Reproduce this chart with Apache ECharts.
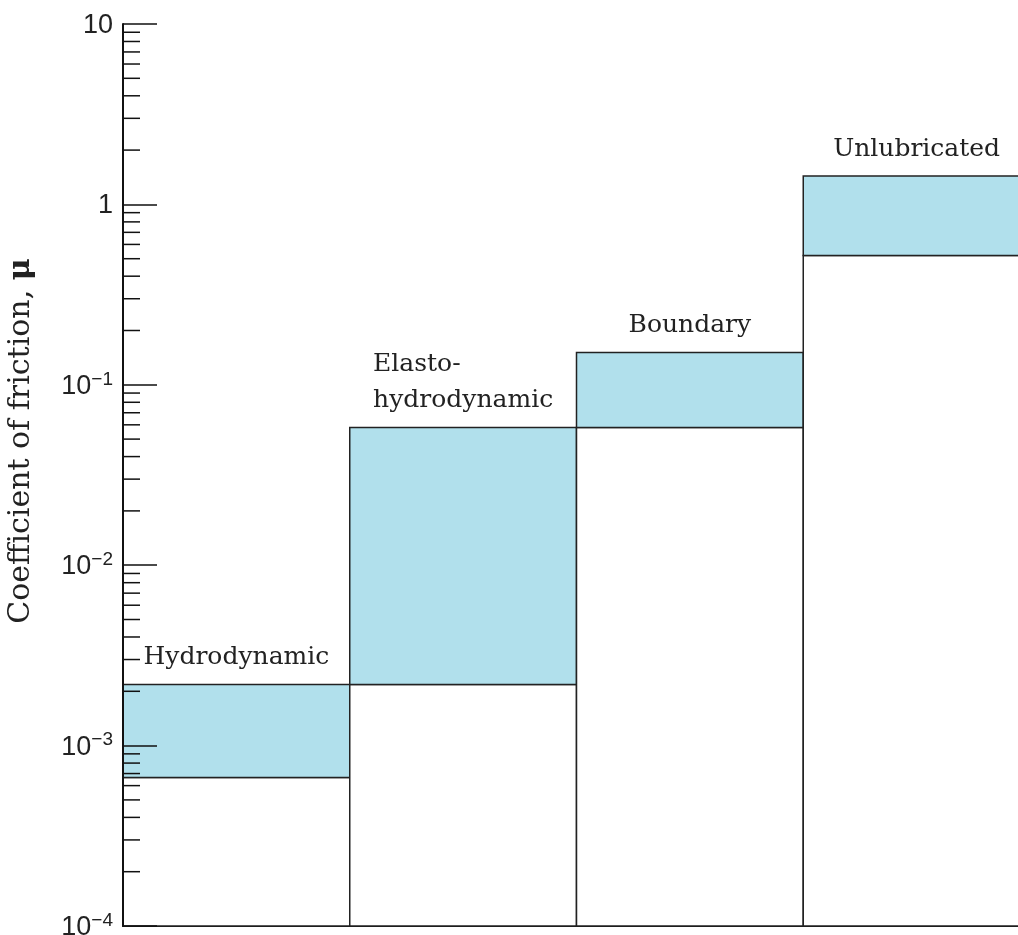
<!DOCTYPE html>
<html>
<head>
<meta charset="utf-8">
<script src="https://cdn.jsdelivr.net/npm/echarts@6/dist/echarts.min.js"></script>
<style>
html,body{margin:0;padding:0;background:#fff;}
#chart{width:1018px;height:935px;}
</style>
</head>
<body>
<div id="chart"></div>
<script>
// ---- data ----
const categories = ['Hydrodynamic', 'Elasto-\nhydrodynamic', 'Boundary', 'Unlubricated'];
const lowValues  = [0.000665, 0.00218, 0.058, 0.521];
const highValues = [0.00218, 0.058, 0.151, 1.436];
const yMin = 1e-4;
const yMax = 10;
const yTitle = 'Coefficient of friction, ';
const yTitleSymbol = 'μ';
// minor tick values (2..9 per decade)
const minorTicks = [];
for (let e = -4; e < 1; e++) {
  for (let m = 2; m <= 9; m++) minorTicks.push(m * Math.pow(10, e));
}

const LABEL_FONT = '25px "DejaVu Serif"';
const measureCtx = document.createElement('canvas').getContext('2d');
measureCtx.font = LABEL_FONT;

const chart = echarts.init(document.getElementById('chart'), null, {renderer: 'canvas'});

function tickLabel(v) {
  const e = Math.round(Math.log10(v));
  if (e === 1) return '{b|10}';
  if (e === 0) return '{b|1}';
  return '{b|10}{s|\u2212' + Math.abs(e) + '}';
}

const option = {
  animation: false,
  backgroundColor: '#ffffff',
  grid: {left: 123, right: -12, top: 24, bottom: 9, containLabel: false, outerBoundsMode: 'none'},
  xAxis: {
    type: 'value', min: 0, max: 4,
    axisLine: {show: true, onZero: false, lineStyle: {color: '#111', width: 2}},
    axisTick: {show: false}, axisLabel: {show: false}, splitLine: {show: false}
  },
  yAxis: {
    type: 'log', logBase: 10, min: yMin, max: yMax, splitNumber: 5,
    z: 10,
    axisLine: {show: true, lineStyle: {color: '#111', width: 2}},
    axisTick: {show: true, inside: true, length: 34, lineStyle: {color: '#111', width: 1.5}},
    splitLine: {show: false},
    axisLabel: {
      margin: 10,
      formatter: tickLabel,
      rich: {
        b: {fontFamily: '"Liberation Sans"', fontSize: 27, color: '#222', lineHeight: 30, verticalAlign: 'bottom'},
        s: {fontFamily: '"Liberation Sans"', fontSize: 19, color: '#222', lineHeight: 22, verticalAlign: 'top', padding: [0, 0, 14, 0]}
      }
    }
  },
  graphic: [{
    type: 'text', x: 21, y: 441, rotation: Math.PI / 2,
    style: {
      text: '{t|' + yTitle + '}{m|' + yTitleSymbol + '}',
      align: 'center', verticalAlign: 'middle',
      rich: {
        t: {fontFamily: '"DejaVu Serif"', fontSize: 30, fill: '#222'},
        m: {fontFamily: '"DejaVu Serif"', fontSize: 30, fontWeight: 'bold', fill: '#222'}
      }
    }
  }],
  series: [{
    type: 'custom',
    z: 2,
    clip: false,
    data: categories.map((c, i) => [i, lowValues[i], highValues[i]]),
    renderItem: function (params, api) {
      const i = params.dataIndex;
      const x0 = api.value(0), lo = api.value(1), hi = api.value(2);
      const pb = api.coord([x0, yMin]);
      const pl = api.coord([x0 + 1, lo]);
      const ph = api.coord([x0 + 1, hi]);
      const w = pl[0] - pb[0];
      const children = [
        {type: 'rect', shape: {x: pb[0], y: pl[1], width: w, height: pb[1] - pl[1]},
         style: {fill: '#ffffff', stroke: '#222', lineWidth: 1.5}},
        {type: 'rect', shape: {x: pb[0], y: ph[1], width: w, height: pl[1] - ph[1]},
         style: {fill: '#b1e0ec', stroke: '#222', lineWidth: 1.5}}
      ];
      const lines = categories[i].split('\n');
      let maxW = 0;
      lines.forEach(l => { maxW = Math.max(maxW, measureCtx.measureText(l).width); });
      const cx = pb[0] + w / 2;
      const left = cx - maxW / 2;
      const lineGap = 36;
      lines.forEach((l, k) => {
        const yy = ph[1] - 27 - (lines.length - 1 - k) * lineGap;
        children.push({
          type: 'text', x: left, y: yy,
          style: {text: l, font: LABEL_FONT, fill: '#222', align: 'left', verticalAlign: 'middle'}
        });
      });
      return {type: 'group', children: children};
    }
  }, {
    type: 'custom',
    z: 11,
    clip: false,
    data: minorTicks.map(v => [0, v]),
    renderItem: function (params, api) {
      const p = api.coord([0, api.value(1)]);
      return {type: 'line', shape: {x1: p[0], y1: p[1], x2: p[0] + 17, y2: p[1]},
              style: {stroke: '#111', lineWidth: 1.5}};
    }
  }]
};
chart.setOption(option);
</script>
</body>
</html>
